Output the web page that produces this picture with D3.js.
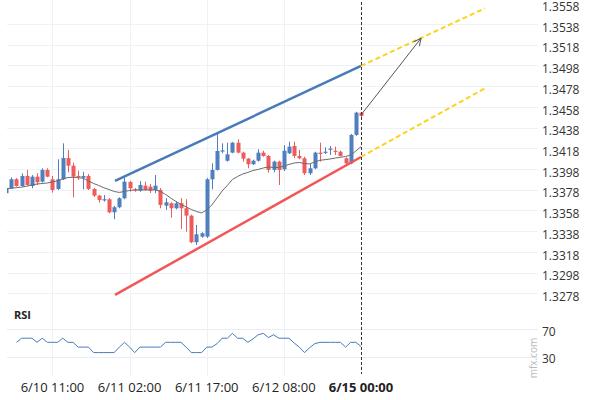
<!DOCTYPE html>
<html>
<head>
<meta charset="utf-8">
<script src="https://cdnjs.cloudflare.com/ajax/libs/d3/7.8.5/d3.min.js"></script>
<style>
  body { margin: 0; background: #fff; }
  svg { display: block; font-family: "Open Sans", sans-serif; }
</style>
</head>
<body>
<script>

// hourly candles, index 0 .. 69 (last one is 6/15 00:00)
var candleOpen = [1.33746, 1.33794, 1.33881, 1.33816, 1.33913, 1.33816, 1.33906, 1.33858, 1.33971, 1.33881,
    1.33787, 1.33881, 1.34086, 1.34012, 1.33913, 1.33896, 1.33913, 1.33787, 1.33723, 1.33681,
    1.33688, 1.33562, 1.33611, 1.33698, 1.33855, 1.33784, 1.33771, 1.33819, 1.33809, 1.33778,
    1.33778, 1.33626, 1.33649, 1.33601, 1.33649, 1.33601, 1.33530, 1.33273, 1.33327, 1.33327,
    1.33881, 1.33971, 1.34151, 1.34060, 1.34138, 1.34234, 1.34138, 1.34080, 1.34026, 1.34060,
    1.34138, 1.34106, 1.33971, 1.34051, 1.33977, 1.34132, 1.34202, 1.34106, 1.34084, 1.33939,
    1.33987, 1.34138, 1.34138, 1.34170, 1.34157, 1.34147, 1.34084, 1.34035, 1.34309, 1.34524];

var candleClose = [1.33794, 1.33881, 1.33816, 1.33913, 1.33826, 1.33906, 1.33852, 1.33971, 1.33906, 1.33778,
    1.33881, 1.34086, 1.34012, 1.33906, 1.33900, 1.33913, 1.33787, 1.33723, 1.33681, 1.33688,
    1.33562, 1.33611, 1.33698, 1.33858, 1.33794, 1.33771, 1.33826, 1.33778, 1.33771, 1.33819,
    1.33633, 1.33659, 1.33601, 1.33649, 1.33601, 1.33530, 1.33273, 1.33350, 1.33360, 1.33881,
    1.33971, 1.34154, 1.34160, 1.34122, 1.34234, 1.34138, 1.34080, 1.34026, 1.34060, 1.34138,
    1.34106, 1.33971, 1.34051, 1.33971, 1.34157, 1.34196, 1.34106, 1.34084, 1.33939, 1.33987,
    1.34138, 1.34125, 1.34147, 1.34177, 1.34151, 1.34106, 1.34035, 1.34309, 1.34524, 1.34492];

var candleHigh = [1.33807, 1.33900, 1.33893, 1.33939, 1.33971, 1.33922, 1.33939, 1.33987, 1.33987, 1.33913,
    1.34074, 1.34228, 1.34164, 1.34041, 1.33964, 1.33954, 1.33932, 1.33797, 1.33730, 1.33729,
    1.33698, 1.33623, 1.33707, 1.33900, 1.33864, 1.33797, 1.33864, 1.33858, 1.33835, 1.33922,
    1.33797, 1.33698, 1.33659, 1.33665, 1.33698, 1.33688, 1.33539, 1.33440, 1.33369, 1.33893,
    1.34035, 1.34318, 1.34228, 1.34234, 1.34241, 1.34267, 1.34147, 1.34086, 1.34070, 1.34170,
    1.34157, 1.34115, 1.34060, 1.34060, 1.34209, 1.34244, 1.34244, 1.34164, 1.34099, 1.34035,
    1.34147, 1.34234, 1.34190, 1.34202, 1.34196, 1.34157, 1.34093, 1.34318, 1.34533, 1.34530];

var candleLow = [1.33736, 1.33787, 1.33809, 1.33809, 1.33819, 1.33794, 1.33826, 1.33848, 1.33900, 1.33752,
    1.33778, 1.33874, 1.33948, 1.33707, 1.33874, 1.33784, 1.33778, 1.33710, 1.33655, 1.33665,
    1.33553, 1.33495, 1.33601, 1.33688, 1.33761, 1.33761, 1.33761, 1.33771, 1.33749, 1.33746,
    1.33601, 1.33585, 1.33510, 1.33591, 1.33401, 1.33375, 1.33263, 1.33247, 1.33317, 1.33314,
    1.33784, 1.33964, 1.34132, 1.34051, 1.34132, 1.34132, 1.34051, 1.33987, 1.34019, 1.34051,
    1.34099, 1.33945, 1.33948, 1.33826, 1.33961, 1.34125, 1.34084, 1.34074, 1.33922, 1.33922,
    1.33977, 1.34051, 1.34125, 1.34115, 1.34115, 1.34099, 1.34019, 1.34026, 1.34300, 1.34453];

// moving average (grey line)
var maValues = [1.33790, 1.33794, 1.33800, 1.33805, 1.33814, 1.33826, 1.33835, 1.33840, 1.33845, 1.33855,
    1.33867, 1.33884, 1.33898, 1.33900, 1.33896, 1.33891, 1.33864, 1.33840, 1.33821, 1.33799,
    1.33782, 1.33763, 1.33754, 1.33763, 1.33773, 1.33778, 1.33778, 1.33778, 1.33778, 1.33778,
    1.33763, 1.33734, 1.33700, 1.33667, 1.33638, 1.33614, 1.33589, 1.33570, 1.33556, 1.33585,
    1.33633, 1.33700, 1.33768, 1.33821, 1.33879, 1.33908, 1.33932, 1.33947, 1.33966, 1.33976,
    1.33990, 1.34000, 1.33995, 1.33995, 1.34009, 1.34024, 1.34038, 1.34043, 1.34033, 1.34029,
    1.34048, 1.34064, 1.34070, 1.34077, 1.34086, 1.34093, 1.34101, 1.34115, 1.34154, 1.34196];

// RSI, first two candles have none
var rsiValues = [null, null, 51, 57, 57, 57, 51, 57, 51, 51,
    51, 57, 51, 51, 44, 44, 44, 36, 36, 36,
    36, 36, 44, 51, 44, 36, 44, 44, 44, 44,
    44, 51, 51, 51, 51, 44, 36, 36, 36, 44,
    44, 49, 57, 57, 64, 57, 57, 51, 56, 62,
    64, 58, 62, 57, 57, 57, 50, 44, 36, 43,
    49, 51, 51, 51, 51, 51, 44, 51, 51, 45];

var priceTicks = [1.3278, 1.3298, 1.3318, 1.3338, 1.3358, 1.3378, 1.3398, 1.3418,
    1.3438, 1.3458, 1.3478, 1.3498, 1.3518, 1.3538, 1.3558];
var rsiTicks = [70, 30];
var timeIndex = [9, 24, 39, 54, 69];
var timeLabels = ["6/10 11:00", "6/11 02:00", "6/11 17:00", "6/12 08:00", "6/15 00:00"];

// channel lines: [candle index, price]
var upperLine = [[21.16, 1.33865], [69, 1.34975]];
var lowerLine = [[21.16, 1.32764], [69, 1.34096]];
var upperProj = [[69, 1.34975], [93.1, 1.35532]];
var lowerProj = [[69, 1.34096], [93.1, 1.34759]];
var arrowLine = [[69, 1.34502], [80.67, 1.35242]];

var width = 590, height = 400;
var plotLeft = 7, plotRight = 538;

var svg = d3.select("body").append("svg")
    .attr("width", width)
    .attr("height", height);

var x = d3.scaleLinear().domain([0, 69]).range([6.2, 361]);
var y = d3.scaleLinear().domain([1.3278, 1.3538]).range([293.3, 24]);
var yRsi = d3.scaleLinear().domain([30, 70]).range([356.7, 329.3]);

var blue = "#4f7fbe", red = "#ef5b5b";

svg.append("defs").append("clipPath").attr("id", "plotClip")
    .append("rect").attr("x", plotLeft).attr("y", 0)
    .attr("width", plotRight - plotLeft).attr("height", 305);

svg.select("defs").append("marker")
    .attr("id", "arrowHead")
    .attr("viewBox", "0 0 10 10")
    .attr("refX", 9).attr("refY", 5)
    .attr("markerWidth", 9).attr("markerHeight", 9)
    .attr("markerUnits", "userSpaceOnUse")
    .attr("orient", "auto")
    .append("path")
    .attr("d", "M1,1 L9,5 L1,9")
    .attr("fill", "none")
    .attr("stroke", "#555")
    .attr("stroke-width", 1.1);

// grid
svg.append("g").selectAll("line")
    .data(priceTicks.filter(function (d) { return y(d) > 10; }))
    .enter().append("line")
    .attr("x1", plotLeft).attr("x2", plotRight)
    .attr("y1", function (d) { return Math.round(y(d)) + 0.5; })
    .attr("y2", function (d) { return Math.round(y(d)) + 0.5; })
    .attr("stroke", "#edf2f6");

svg.append("g").selectAll("line")
    .data(rsiTicks)
    .enter().append("line")
    .attr("x1", plotLeft).attr("x2", plotRight)
    .attr("y1", function (d) { return Math.round(yRsi(d)) + 0.5; })
    .attr("y2", function (d) { return Math.round(yRsi(d)) + 0.5; })
    .attr("stroke", "#e6eef4");

svg.append("g").selectAll("line")
    .data(timeIndex.slice(0, 4))
    .enter().append("line")
    .attr("x1", function (d) { return Math.round(x(d)) + 0.5; })
    .attr("x2", function (d) { return Math.round(x(d)) + 0.5; })
    .attr("y1", 0).attr("y2", 376)
    .attr("stroke", "#edf2f6");

// price labels
svg.append("g").selectAll("text")
    .data(priceTicks)
    .enter().append("text")
    .attr("x", 542)
    .attr("y", function (d) { return y(d) + 7.7; })
    .attr("font-size", 12)
    .attr("fill", "#333")
    .text(function (d) { return d.toFixed(4); });

svg.append("g").selectAll("text")
    .data(rsiTicks)
    .enter().append("text")
    .attr("x", 542)
    .attr("y", function (d) { return yRsi(d) + 6.5; })
    .attr("font-size", 12)
    .attr("fill", "#333")
    .text(function (d) { return d; });

// time labels
svg.append("g").selectAll("text")
    .data(timeIndex)
    .enter().append("text")
    .attr("x", function (d) { return x(d); })
    .attr("y", 392)
    .attr("text-anchor", "middle")
    .attr("font-size", 13)
    .attr("font-weight", function (d, i) { return i == timeIndex.length - 1 ? "bold" : "normal"; })
    .attr("fill", "#222")
    .text(function (d, i) { return timeLabels[i]; });

svg.append("text")
    .attr("x", 14).attr("y", 319)
    .attr("font-size", 11)
    .attr("font-weight", "bold")
    .attr("fill", "#222")
    .text("RSI");

svg.append("text")
    .attr("transform", "translate(537,358) rotate(-90)")
    .attr("text-anchor", "middle")
    .attr("font-size", 10)
    .attr("fill", "#bbb")
    .text("mfx.com");

// candles
var plot = svg.append("g").attr("clip-path", "url(#plotClip)");
var idx = d3.range(candleOpen.length);
function col(i) { return candleClose[i] >= candleOpen[i] ? blue : red; }

plot.append("g").selectAll("line")
    .data(idx)
    .enter().append("line")
    .attr("x1", function (i) { return Math.round(x(i)) + 0.5; })
    .attr("x2", function (i) { return Math.round(x(i)) + 0.5; })
    .attr("y1", function (i) { return y(candleHigh[i]); })
    .attr("y2", function (i) { return y(candleLow[i]); })
    .attr("stroke", col);

plot.append("g").selectAll("rect")
    .data(idx)
    .enter().append("rect")
    .attr("x", function (i) { return Math.round(x(i)) - 1.5; })
    .attr("width", 4)
    .attr("y", function (i) { return y(Math.max(candleOpen[i], candleClose[i])); })
    .attr("height", function (i) {
        return Math.max(1.2, Math.abs(y(candleOpen[i]) - y(candleClose[i])));
    })
    .attr("fill", col);

// moving average
var line = d3.line()
    .defined(function (d) { return d != null; })
    .x(function (d, i) { return x(i); });

plot.append("path")
    .datum(maValues)
    .attr("d", line.y(function (d) { return y(d); }))
    .attr("fill", "none")
    .attr("stroke", "#6b6b6b")
    .attr("stroke-width", 1);

// channel
var seg = d3.line()
    .x(function (d) { return x(d[0]); })
    .y(function (d) { return y(d[1]); });

svg.append("path").datum(upperLine).attr("d", seg)
    .attr("stroke", "#4a7aba").attr("stroke-width", 2.5).attr("fill", "none");
svg.append("path").datum(lowerLine).attr("d", seg)
    .attr("stroke", "#f25757").attr("stroke-width", 2.5).attr("fill", "none");
svg.append("path").datum(upperProj).attr("d", seg)
    .attr("stroke", "#fcd21c").attr("stroke-width", 2).attr("stroke-dasharray", "5,3").attr("fill", "none");
svg.append("path").datum(lowerProj).attr("d", seg)
    .attr("stroke", "#fcd21c").attr("stroke-width", 2).attr("stroke-dasharray", "5,3").attr("fill", "none");

svg.append("path").datum(arrowLine).attr("d", seg)
    .attr("stroke", "#555").attr("stroke-width", 1).attr("fill", "none")
    .attr("marker-end", "url(#arrowHead)");

// rsi line
svg.append("path")
    .datum(rsiValues)
    .attr("d", d3.line()
        .defined(function (d) { return d != null; })
        .x(function (d, i) { return x(i); })
        .y(function (d) { return yRsi(d); }))
    .attr("fill", "none")
    .attr("stroke", "#4a7aba")
    .attr("stroke-width", 1);

// current time marker
svg.append("line")
    .attr("x1", Math.round(x(69)) + 0.5).attr("x2", Math.round(x(69)) + 0.5)
    .attr("y1", 2).attr("y2", 374)
    .attr("stroke", "#333")
    .attr("stroke-dasharray", "3,2");

</script>
</body>
</html>
